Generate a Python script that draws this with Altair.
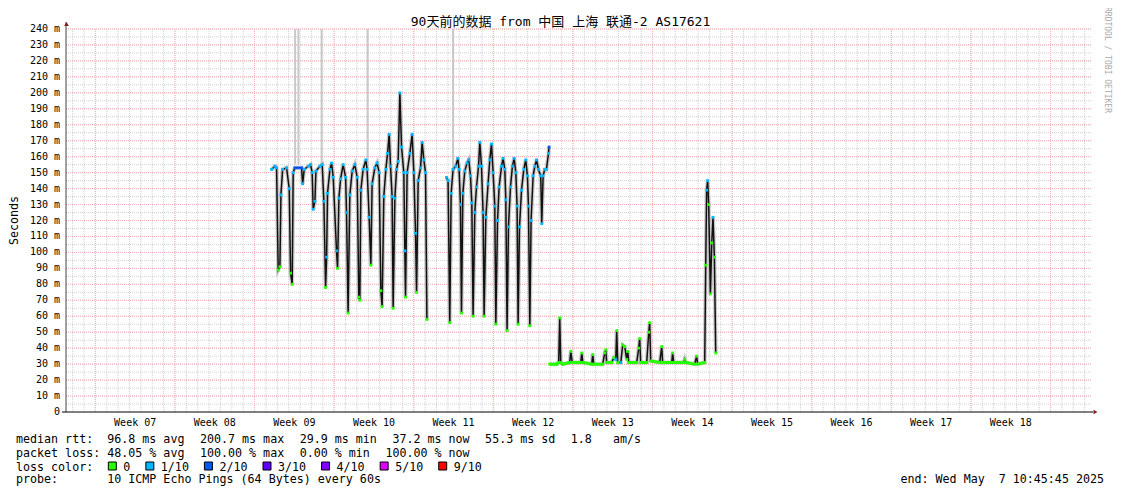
import altair as alt
import pandas as pd

# ---------------- data (days since the left edge of the graph, median rtt in ms, loss level index) ----------------
a_day = [18.08, 18.37, 18.52, 18.66, 18.81, 18.90, 19.05, 19.40, 19.63, 19.75, 19.89, 19.98,
         20.13, 20.39, 20.72, 20.81, 20.95, 21.30, 21.51, 21.65, 21.74, 21.89, 21.98, 22.33,
         22.53, 22.68, 22.83, 22.92, 23.00, 23.21, 23.36, 23.50, 23.79, 23.88, 24.00, 24.15,
         24.37, 24.59, 24.67, 24.81, 24.96, 25.17, 25.40, 25.61, 25.75, 25.84, 25.93, 26.13,
         26.37, 26.48, 26.66, 26.81, 26.92, 27.16, 27.36, 27.54, 27.69, 27.80, 27.95, 28.13,
         28.28, 28.42, 28.54, 28.68, 28.77, 28.92, 29.07, 29.21, 29.36, 29.51, 29.71, 29.80,
         29.86, 30.00, 30.24, 30.44, 30.59, 30.74, 30.83, 30.97, 31.18, 31.32, 31.47, 31.62,
         31.74]
a_rtt = [152, 154, 153, 89, 91, 136, 152, 153, 140, 87, 80, 150,
         153, 153, 153, 143, 152, 154, 155, 150, 127, 132, 151, 154,
         155, 132, 78, 97, 137, 152, 156, 147, 101, 90, 134, 146,
         155, 147, 125, 62, 136, 151, 155, 147, 72, 70, 139, 152,
         158, 152, 122, 92, 143, 153, 156, 150, 76, 66, 135, 152,
         162, 174, 154, 135, 65, 134, 152, 157, 200, 166, 150, 101,
         72, 150, 162, 174, 150, 112, 75, 145, 153, 169, 158, 150,
         58]
a_loss = [1, 1, 1, 0, 0, 1, 1, 1, 1, 0, 0, 1,
          2, 2, 2, 1, 1, 1, 1, 1, 1, 1, 1, 1,
          1, 1, 0, 1, 1, 1, 1, 1, 1, 0, 1, 1,
          1, 1, 1, 0, 1, 1, 1, 1, 0, 0, 1, 1,
          1, 1, 1, 0, 1, 1, 1, 1, 0, 0, 1, 1,
          1, 1, 1, 1, 0, 1, 1, 1, 1, 1, 1, 1,
          0, 1, 1, 1, 1, 1, 0, 1, 1, 1, 1, 1,
          0]

b_day = [33.46, 33.60, 33.75, 33.87, 34.04, 34.28, 34.46, 34.57, 34.69, 34.78, 34.90, 35.07,
         35.27, 35.42, 35.57, 35.69, 35.80, 35.95, 36.10, 36.28, 36.39, 36.54, 36.68, 36.77,
         36.92, 37.12, 37.27, 37.42, 37.56, 37.71, 37.80, 37.95, 38.09, 38.30, 38.44, 38.59,
         38.68, 38.79, 38.91, 39.09, 39.26, 39.41, 39.56, 39.67, 39.76, 39.88, 40.06, 40.26,
         40.43, 40.58, 40.67, 40.79, 40.90, 41.08, 41.23, 41.38, 41.55, 41.75, 41.84, 41.96,
         42.10, 42.25, 42.43, 42.48]
b_rtt = [147, 145, 56, 137, 152, 154, 159, 152, 130, 62, 137, 151,
         156, 158, 148, 131, 60, 125, 141, 154, 169, 154, 125, 60,
         122, 143, 158, 168, 150, 129, 55, 120, 141, 154, 159, 152,
         133, 51, 116, 141, 154, 159, 150, 129, 55, 116, 139, 152,
         158, 148, 129, 54, 120, 148, 154, 158, 152, 148, 118, 148,
         152, 152, 162, 166]
b_loss = [1, 1, 0, 1, 1, 1, 1, 1, 1, 0, 1, 1,
          1, 1, 1, 1, 0, 1, 1, 1, 1, 1, 1, 0,
          1, 1, 1, 1, 1, 1, 0, 1, 1, 1, 1, 1,
          1, 0, 1, 1, 1, 1, 1, 1, 0, 1, 1, 1,
          1, 1, 1, 0, 1, 1, 1, 1, 1, 1, 1, 1,
          1, 1, 1, 2]

c_day = [42.54, 43.16, 43.33, 43.42, 43.51, 43.69, 44.30, 44.39, 44.52, 45.27, 45.36, 45.45,
         46.24, 46.32, 46.41, 47.20, 47.38, 47.47, 47.55, 47.99, 48.17, 48.35, 48.43, 48.52,
         48.79, 48.96, 49.14, 49.31, 49.40, 49.49, 50.19, 50.37, 50.45, 50.54, 51.07, 51.25,
         51.33, 51.42, 52.21, 52.39, 52.47, 53.27, 53.35, 53.44, 54.32, 54.41, 54.50, 55.29,
         55.46, 55.55, 56.17, 56.26, 56.34, 56.43, 56.52, 56.67, 56.79, 56.90, 57.02, 57.14]
c_rtt = [30, 30, 31, 59, 31, 30, 31, 38, 31, 31, 37, 31,
         30, 36, 30, 30, 37, 39, 31, 31, 34, 33, 51, 31,
         31, 42, 41, 33, 38, 31, 31, 40, 46, 31, 31, 50,
         56, 32, 31, 41, 31, 31, 37, 31, 31, 33, 31, 30,
         35, 30, 31, 92, 139, 145, 130, 74, 106, 122, 97, 37]
c_loss = [0, 0, 0, 0, 0, 0, 0, 0, 0, 0, 0, 0,
          0, 0, 0, 0, 0, 0, 0, 0, 0, 1, 0, 0,
          1, 0, 0, 0, 0, 0, 0, 0, 0, 0, 0, 0,
          0, 0, 0, 0, 0, 0, 0, 0, 0, 0, 0, 0,
          0, 0, 0, 0, 1, 1, 0, 0, 0, 1, 0, 0]

# tall smoke streaks (max ping of a sample) : day, from, to
spike_day = [20.15, 20.44, 22.48, 26.52, 34.04]
spike_lo = [155, 155, 155, 156, 152]
spike_hi = [240, 240, 240, 240, 240]

loss_labels = ["0", "1/10", "2/10", "3/10", "4/10", "5/10", "9/10"]
loss_colors = ["#26ff00", "#00b8ff", "#0059ff", "#5e00ff", "#7e00ff", "#dd00ff", "#ff0000"]

week_names = ["Week 07", "Week 08", "Week 09", "Week 10", "Week 11", "Week 12",
              "Week 13", "Week 14", "Week 15", "Week 16", "Week 17", "Week 18"]

title_text = "90天前的数据 from 中国 上海 联通-2 AS17621"
rtt_items = ["median rtt:  96.8 ms avg", "200.7 ms max", "29.9 ms min", "37.2 ms now",
             "55.3 ms sd", "1.8   am/s"]
loss_items = ["packet loss: 48.05 % avg", "100.00 % max", "0.00 % min", "100.00 % now"]
probe_text = "probe:       10 ICMP Echo Pings (64 Bytes) every 60s"
end_text = "end: Wed May  7 10:45:45 2025"
mark_text_wm = "RRDTOOL / TOBI OETIKER"

# ---------------- layout ----------------
W, H = 1026, 383
OX, OY = 66, 29           # page position of plot origin
X_MAX = 90.23
FIRST_DAY = 0.584         # first midnight
FIRST_SUN = 2.584         # first week boundary
MONO = "DejaVu Sans Mono"
CJKF = "DejaVu Sans Mono, Noto Sans CJK SC"
LEG = 11.66
CW = 0.602 * LEG          # char advance
GAP = 15.5
MINOR = "#d0d0d0"
MAJOR = "#f5b0b0"

rows = []
for blk, (ds, vs, ls) in enumerate([(a_day, a_rtt, a_loss), (b_day, b_rtt, b_loss), (c_day, c_rtt, c_loss)]):
    for d, v, l in zip(ds, vs, ls):
        rows.append({"blk": blk, "day": d, "rtt": v, "loss": loss_labels[l], "lc": l})
df = pd.DataFrame(rows)
spikes = pd.DataFrame({"day": spike_day, "lo": spike_lo, "hi": spike_hi})
weeks = pd.DataFrame({"name": week_names, "i": list(range(len(week_names)))})
ONE = pd.DataFrame({"k": [0]})

xs = alt.Scale(domain=[0, X_MAX], nice=False, zero=False)
ys = alt.Scale(domain=[0, 240], nice=False)
NB = "\u00a0"


def nb(s):
    return s.replace(" ", NB)


def txt(s, px, py, size=LEG, color="black", align="left", baseline="alphabetic", angle=0, font=MONO):
    kw = dict(text=nb(s), font=font, fontSize=size, color=color, align=align, baseline=baseline)
    if angle:
        kw["angle"] = angle
    return alt.Chart(ONE).mark_text(**kw).encode(x=alt.value(px), y=alt.value(py))


layers = []

# grid
layers.append(
    alt.Chart(alt.sequence(0, 91, as_="k")).transform_calculate(d=f"datum.k + {FIRST_DAY}")
    .transform_filter(f"datum.d <= {X_MAX}")
    .mark_rule(color=MINOR, strokeDash=[1, 1], strokeWidth=1)
    .encode(x=alt.X("d:Q", scale=xs, axis=None), y=alt.value(0), y2=alt.value(H))
)
layers.append(
    alt.Chart(alt.sequence(5, 241, 5, as_="v"))
    .mark_rule(color=MINOR, strokeDash=[1, 1], strokeWidth=1)
    .encode(y=alt.Y("v:Q", scale=ys, axis=None), x=alt.value(0), x2=alt.value(W))
)
layers.append(
    alt.Chart(alt.sequence(10, 241, 10, as_="v"))
    .mark_rule(color=MAJOR, strokeDash=[1, 1], strokeWidth=1)
    .encode(y=alt.Y("v:Q", scale=ys, axis=None), x=alt.value(0), x2=alt.value(W))
)
layers.append(
    alt.Chart(alt.sequence(0, 13, as_="k")).transform_calculate(d=f"datum.k * 7 + {FIRST_SUN}")
    .mark_rule(color=MAJOR, strokeDash=[1, 1], strokeWidth=1)
    .encode(x=alt.X("d:Q", scale=xs, axis=None), y=alt.value(0), y2=alt.value(H))
)

# smoke
layers.append(
    alt.Chart(spikes).mark_rule(color="#c8c8c8", strokeWidth=2)
    .encode(x=alt.X("day:Q", scale=xs, axis=None), y=alt.Y("lo:Q", scale=ys, axis=None), y2="hi:Q")
)
base = alt.Chart(df).encode(
    x=alt.X("day:Q", scale=xs, axis=None),
    y=alt.Y("rtt:Q", scale=ys, axis=None),
    detail="blk:N",
)
layers.append(base.mark_line(color="#a8a8a8", strokeWidth=4, opacity=0.6))
layers.append(base.mark_line(color="#111111", strokeWidth=1.5))
layers.append(
    alt.Chart(df).transform_calculate(g="datum.lc == 0 && datum.rtt <= 32 ? datum.rtt : null")
    .mark_line(color=loss_colors[0], strokeWidth=3, invalid="break-paths-show-domains")
    .encode(x=alt.X("day:Q", scale=xs, axis=None), y=alt.Y("g:Q", scale=ys, axis=None), detail="blk:N")
)
layers.append(
    base.mark_square(size=8, opacity=1).encode(
        color=alt.Color("loss:N", scale=alt.Scale(domain=loss_labels, range=loss_colors), legend=None)
    )
)

# axes
layers.append(
    alt.Chart(ONE).mark_rule(color="#444444", strokeWidth=1)
    .encode(x=alt.value(0), y=alt.value(-7), y2=alt.value(H))
)
layers.append(
    alt.Chart(ONE).mark_rule(color="#000000", strokeWidth=1)
    .encode(x=alt.value(-4), x2=alt.value(W + 1), y=alt.value(H))
)
layers.append(
    alt.Chart(ONE).mark_point(shape="triangle-up", filled=True, size=22, color="#8b1a1a", opacity=1)
    .encode(x=alt.value(0.5), y=alt.value(-5))
)
layers.append(
    alt.Chart(ONE).mark_point(shape="triangle-right", filled=True, size=22, color="#8b1a1a", opacity=1)
    .encode(x=alt.value(W + 3.5), y=alt.value(H))
)

# y tick labels
layers.append(
    alt.Chart(alt.sequence(0, 241, 10, as_="v"))
    .transform_calculate(lab=f"datum.v == 0 ? '0{NB}{NB}' : datum.v + '{NB}m'")
    .mark_text(align="right", baseline="middle", font=MONO, fontSize=10, color="black")
    .encode(y=alt.Y("v:Q", scale=ys, axis=None), x=alt.value(-6), text="lab:N")
)
# week labels
layers.append(
    alt.Chart(weeks).transform_calculate(d=f"datum.i * 7 + {FIRST_SUN} + 3.5")
    .mark_text(align="center", baseline="alphabetic", font=MONO, fontSize=10, color="black")
    .encode(x=alt.X("d:Q", scale=xs, axis=None), y=alt.value(425.5 - OY), text="name:N")
)

# titles
layers.append(txt(title_text, 560.5 - OX, 25.5 - OY, size=13, align="center", font=CJKF))
layers.append(txt("Seconds", 17.5 - OX, 220.5 - OY, align="center", baseline="alphabetic", angle=270))
layers.append(txt(mark_text_wm, 1107 - OX, 60 - OY, size=8, color="#aaaaaa", align="center",
                  baseline="middle", angle=90))

# legend lines
px = 16.0
for s in rtt_items:
    layers.append(txt(s, px - OX, 443.0 - OY))
    px += len(s) * CW + GAP
px = 16.0
for s in loss_items:
    layers.append(txt(s, px - OX, 456.8 - OY))
    px += len(s) * CW + GAP
layers.append(txt("loss color:", 16 - OX, 470.6 - OY))
px = 16.0 + 11 * CW + 15.1
for lab, col in zip(loss_labels, loss_colors):
    layers.append(
        alt.Chart(ONE).mark_rect(color=col, stroke="black", strokeWidth=1)
        .encode(x=alt.value(px - OX), x2=alt.value(px - OX + 8), y=alt.value(462 - OY), y2=alt.value(470 - OY))
    )
    layers.append(txt(lab, px + 15 - OX, 470.6 - OY))
    px += 15 + len(lab) * CW + GAP
layers.append(txt(probe_text, 16 - OX, 483 - OY))
layers.append(txt(end_text, 1104 - OX, 483 - OY, align="right"))

chart = (
    alt.layer(*layers)
    .properties(
        width=W,
        height=H,
        padding={"left": OX - 8, "top": OY - 8, "right": 21, "bottom": 74},
        autosize=alt.AutoSizeParams(type="none"),
        background="white",
    )
    .configure_view(strokeWidth=0)
)

chart.save("out.html", embed_options={"renderer": "svg", "actions": False})
